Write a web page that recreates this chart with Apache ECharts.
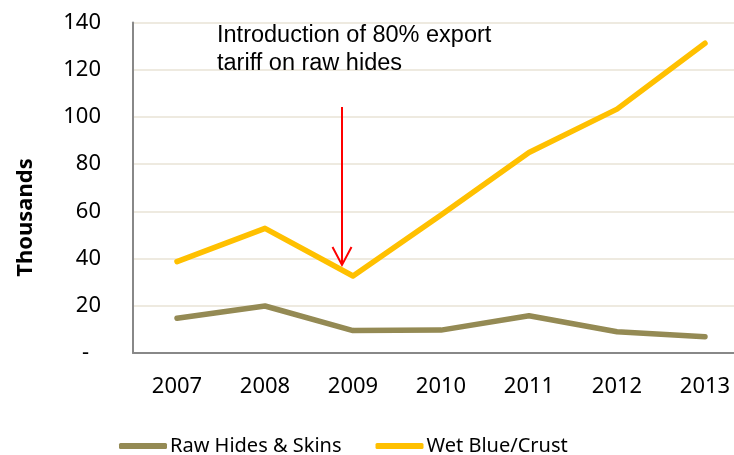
<!DOCTYPE html>
<html>
<head>
<meta charset="utf-8">
<script src="https://cdn.jsdelivr.net/npm/echarts@6/dist/echarts.min.js"></script>
<style>
  html, body { margin: 0; padding: 0; background: #fff; }
  #chart { width: 734px; height: 455px; }
</style>
</head>
<body>
<div id="chart"></div>
<script>
// Export volumes (thousands) by year
const years = ['2007', '2008', '2009', '2010', '2011', '2012', '2013'];
const rawHides = [14.7, 19.9, 9.5, 9.7, 15.8, 9.0, 6.9];
const wetBlue = [38.7, 52.8, 32.6, 58.5, 84.9, 103.3, 131.2];
const seriesNames = ['Raw Hides & Skins', 'Wet Blue/Crust'];
const noteLines = ['Introduction of 80% export', 'tariff on raw hides'];
const axisTitle = 'Thousands';

const labelFont = "'Noto Sans', sans-serif";

const chart = echarts.init(document.getElementById('chart'), null, { renderer: 'canvas' });

chart.setOption({
  animation: false,
  backgroundColor: '#ffffff',
  // plot area runs past the right edge of the canvas
  grid: { left: 133, width: 616, top: 22.5, bottom: 102, containLabel: false, outerBoundsMode: 'none' },
  legend: {
    top: 431,
    left: 114,
    itemWidth: 48,
    itemHeight: 6,
    itemGap: 34,
    icon: 'roundRect',
    textStyle: { fontFamily: labelFont, fontSize: 20, color: '#000', padding: [0, 0, 0, -2] },
    data: seriesNames
  },
  xAxis: {
    type: 'category',
    data: years,
    boundaryGap: true,
    axisLine: { lineStyle: { color: '#888', width: 2 } },
    axisTick: { show: false },
    axisLabel: { color: '#000', fontFamily: labelFont, fontSize: 22, margin: 23 },
    splitLine: { show: false }
  },
  yAxis: {
    type: 'value',
    min: 0,
    max: 140,
    interval: 20,
    axisLine: { show: true, lineStyle: { color: '#888', width: 2 } },
    axisTick: { show: false },
    axisLabel: {
      color: '#000', fontFamily: labelFont, fontSize: 22, margin: 32,
      formatter: v => v === 0 ? '{d|-}' : String(v),
      rich: { d: { fontFamily: labelFont, fontSize: 22, color: '#000', padding: [0, 12, 0, 0] } }
    },
    splitLine: { show: true, lineStyle: { color: '#EEEAE0', width: 2 } }
  },
  series: [
    {
      name: seriesNames[0],
      type: 'line',
      data: rawHides,
      symbol: 'none',
      color: '#948A54',
      lineStyle: { width: 5.5, color: '#948A54', cap: 'round', join: 'round' },
      z: 3
    },
    {
      name: seriesNames[1],
      type: 'line',
      data: wetBlue,
      symbol: 'none',
      color: '#FFC000',
      lineStyle: { width: 5.5, color: '#FFC000', cap: 'round', join: 'round' },
      z: 3
    }
  ]
});

// Annotation: note text plus a red arrow pointing at the 2009 dip
const x1 = chart.convertToPixel({ xAxisIndex: 0 }, years[1]);
const x2 = chart.convertToPixel({ xAxisIndex: 0 }, years[2]);
const arrowX = x1 + (x2 - x1) * 0.875;
const arrowTop = chart.convertToPixel({ yAxisIndex: 0 }, 104.2);
const arrowTip = chart.convertToPixel({ yAxisIndex: 0 }, 37.3);

chart.setOption({
  graphic: [
    {
      type: 'text',
      x: 26,
      y: 217.5,
      rotation: Math.PI / 2,
      style: {
        text: axisTitle,
        font: "bold 22px 'Noto Sans', sans-serif",
        fill: '#000',
        align: 'center',
        verticalAlign: 'middle'
      }
    },
    {
      type: 'text',
      left: 217,
      top: 22,
      style: {
        text: noteLines.join('\n'),
        font: "23.5px 'Liberation Sans', Arial, sans-serif",
        lineHeight: 28,
        fill: '#000'
      },
      z: 10
    },
    {
      type: 'line',
      shape: { x1: arrowX, y1: arrowTop, x2: arrowX, y2: arrowTip - 1 },
      style: { stroke: '#FF0000', lineWidth: 2 },
      z: 10
    },
    {
      type: 'polyline',
      shape: { points: [[arrowX - 9.5, arrowTip - 18], [arrowX, arrowTip], [arrowX + 9.5, arrowTip - 18]] },
      style: { stroke: '#FF0000', lineWidth: 2, fill: null },
      z: 10
    }
  ]
});
</script>
</body>
</html>
